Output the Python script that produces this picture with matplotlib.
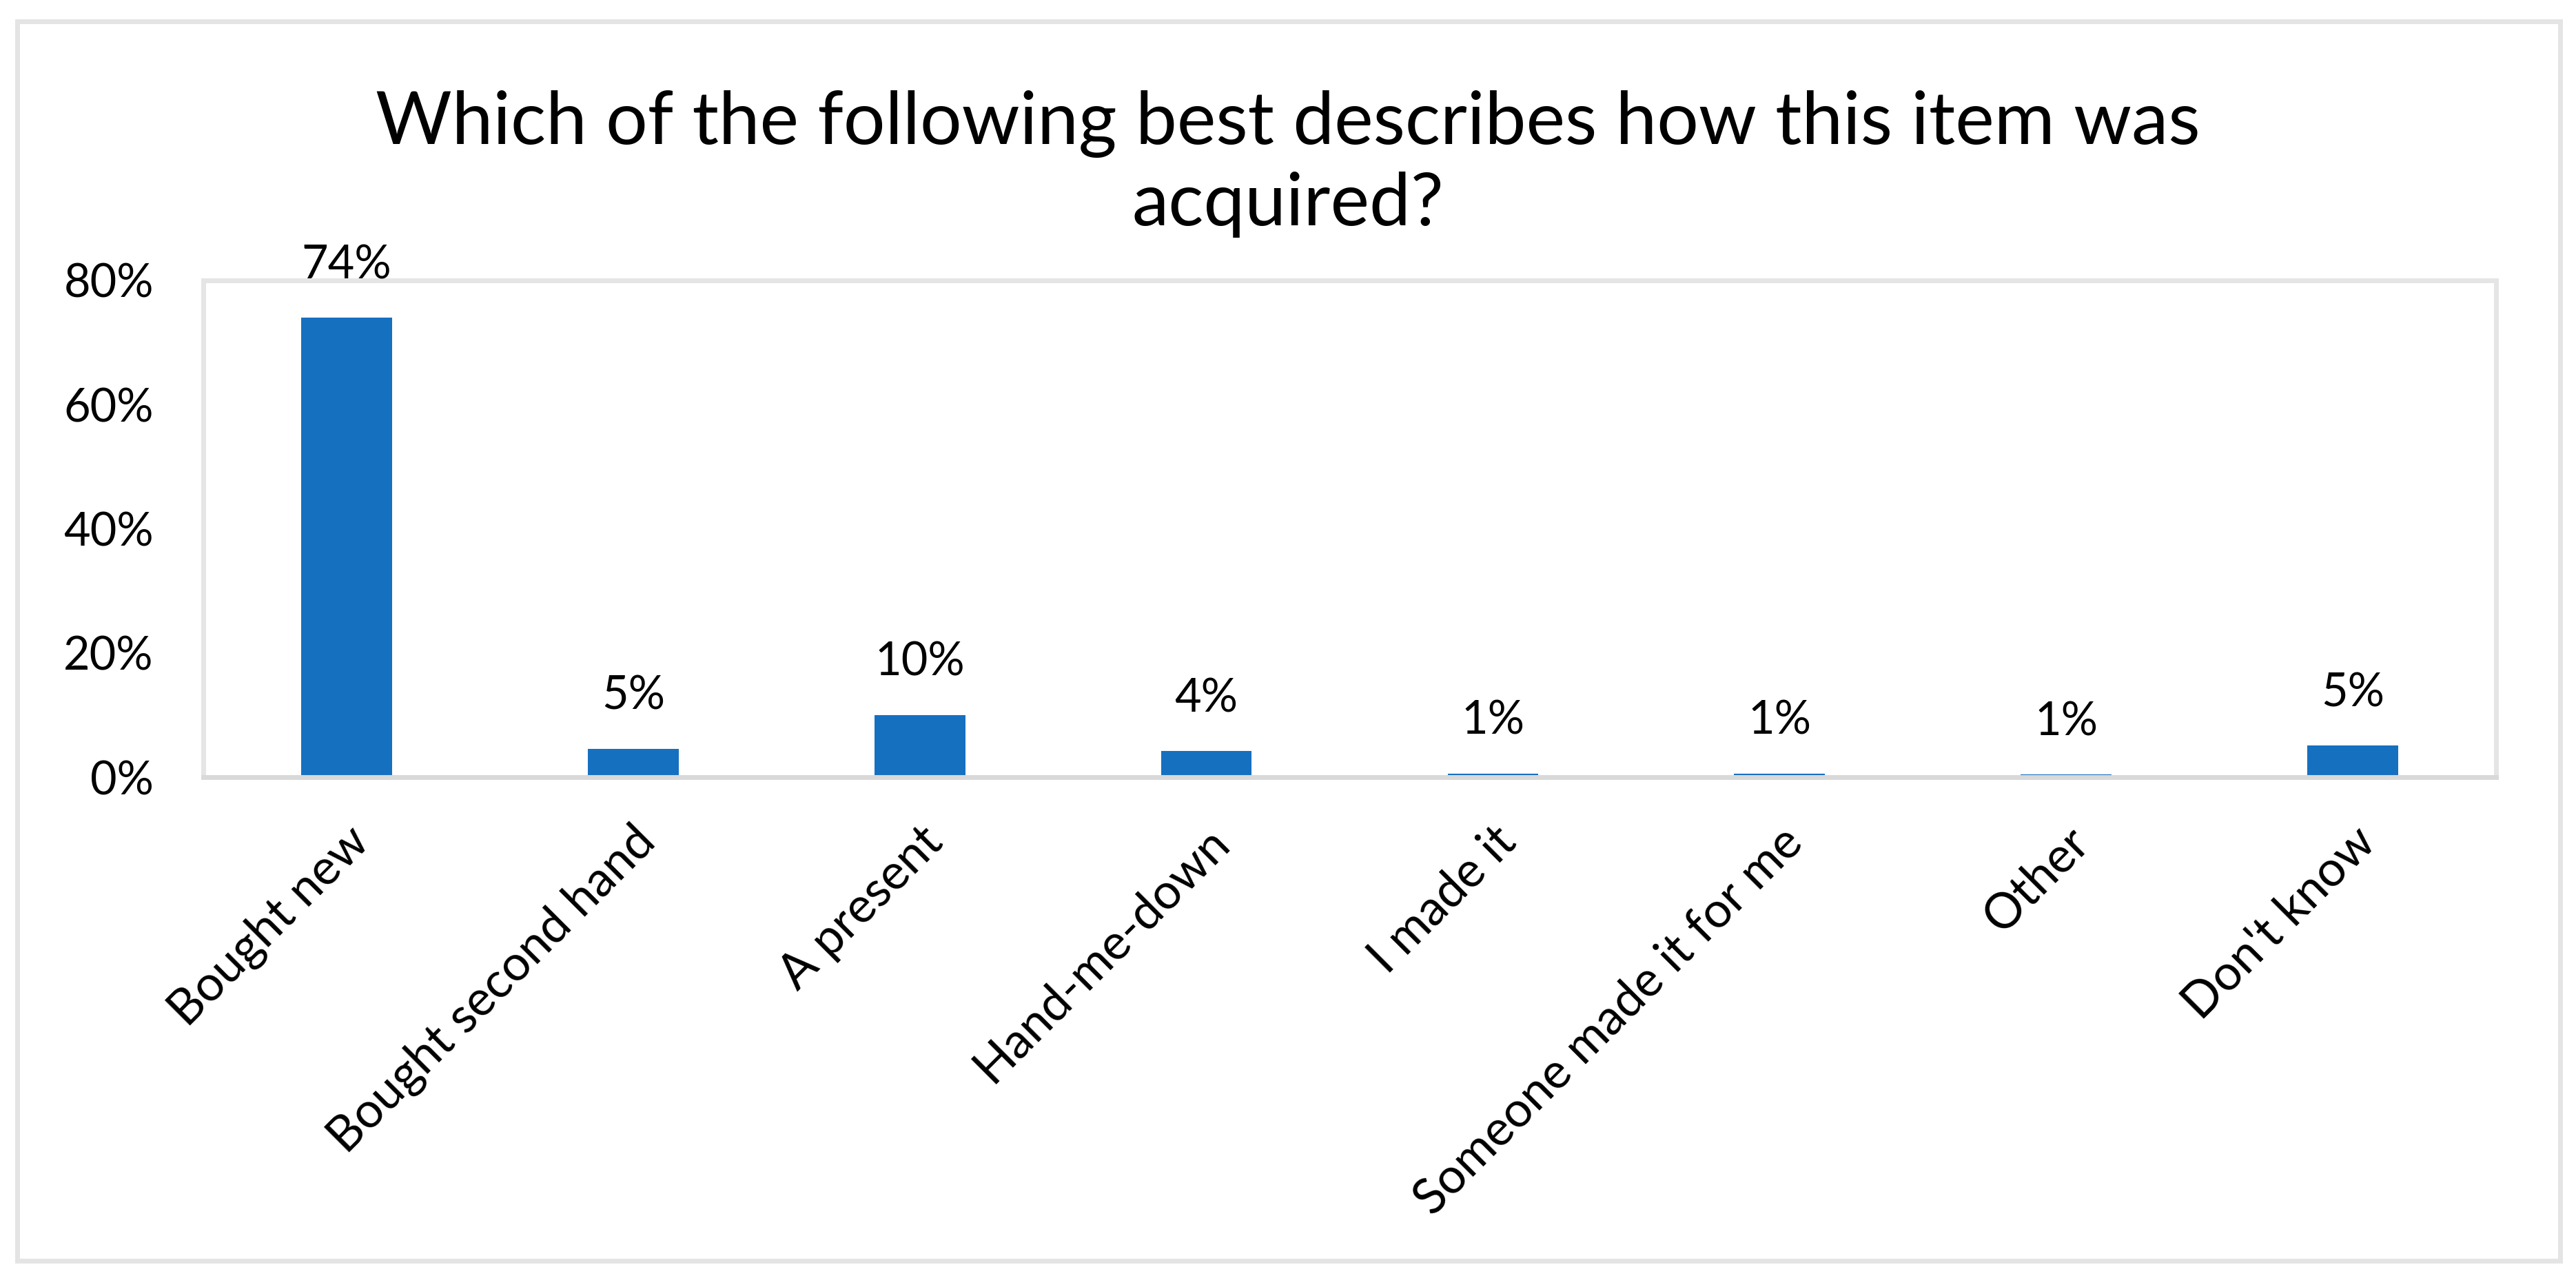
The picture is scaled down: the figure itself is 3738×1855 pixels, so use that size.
import matplotlib
matplotlib.use("Agg")
import matplotlib.pyplot as plt
import matplotlib.transforms as mtransforms
from matplotlib.patches import Rectangle
from matplotlib.ticker import FuncFormatter

# ---- data ----
categories = ["Bought new", "Bought second hand", "A present", "Hand-me-down",
              "I made it", "Someone made it for me", "Other", "Don't know"]
values = [74.0, 4.6, 10.0, 4.2, 0.6, 0.6, 0.4, 5.1]
value_labels = ["74%", "5%", "10%", "4%", "1%", "1%", "1%", "5%"]
y_ticks = [0, 20, 40, 60, 80]
title = "Which of the following best describes how this item was\nacquired?"

plt.rcParams['font.family'] = ['Lato', 'DejaVu Sans']

W, H, DPI = 3738, 1855, 100
fig = plt.figure(figsize=(W / DPI, H / DPI), dpi=DPI)
fig.patch.set_facecolor('white')

# outer chart border
fig.patches.append(Rectangle((25 / W, 1 - 1830 / H), (3715 - 25) / W, (1830 - 31) / H,
                             transform=fig.transFigure, fill=False,
                             edgecolor='#e4e4e4', linewidth=5.0, zorder=0))

ax = fig.add_axes([295 / W, 1 - 1128 / H, (3622 - 295) / W, (1128 - 407) / H])
x = list(range(len(categories)))
ax.bar(x, values, width=0.317, color='#1670C0', zorder=2)
ax.set_xlim(-0.5, len(categories) - 0.5)
ax.set_ylim(0, 80)

ax.set_yticks(y_ticks)
ax.yaxis.set_major_formatter(FuncFormatter(lambda v, p: f"{v:.0f}%"))
ax.tick_params(axis='y', length=0, pad=52, labelsize=48, labelcolor='black')
ax.set_xticks(x)
ax.set_xticklabels(categories, rotation=45, ha='right', va='center',
                   rotation_mode='anchor', fontsize=51)
ax.tick_params(axis='x', length=0, pad=60)
offset = mtransforms.ScaledTranslation(22 / DPI, 0, fig.dpi_scale_trans)
for lab in ax.get_xticklabels():
    lab.set_transform(lab.get_transform() + offset)

for side in ['top', 'left', 'right']:
    ax.spines[side].set_color('#e5e5e5')
    ax.spines[side].set_linewidth(5.0)
ax.spines['bottom'].set_color('#d9d9d9')
ax.spines['bottom'].set_linewidth(5.0)

for xi, v, lab in zip(x, values, value_labels):
    ax.annotate(lab, (xi, v), xytext=(0, 41), textcoords='offset points',
                ha='center', va='baseline', fontsize=48, color='black')

fig.text(0.5, 1 - 238 / H, title, ha='center', va='center',
         multialignment='center', fontsize=77, linespacing=1.25, color='black')

fig.savefig('out.png', dpi=DPI, facecolor='white')
